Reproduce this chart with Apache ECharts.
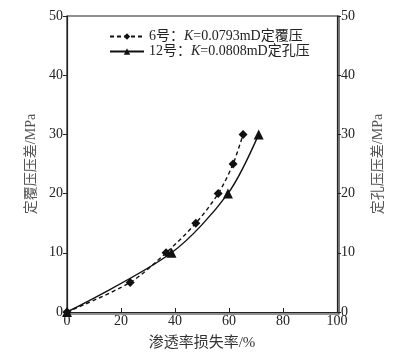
<!DOCTYPE html>
<html>
<head>
<meta charset="utf-8">
<script src="https://cdn.jsdelivr.net/npm/echarts@6/dist/echarts.min.js"></script>
<style>
html, body { margin: 0; padding: 0; background: #fff; }
#chart { width: 393px; height: 356px; }
</style>
</head>
<body>
<div id="chart"></div>
<script>
// 6号 定覆压
var lossA = [0, 23.4, 36.7, 47.7, 56.0, 61.5, 65.2];
var pressA = [0, 5, 10, 15, 20, 25, 30];
// 12号 定孔压
var lossB = [0, 38.7, 59.6, 71.0];
var pressB = [0, 10, 20, 30];

var nameA = '6号：{i|K}=0.0793mD定覆压';
var nameB = '12号：{i|K}=0.0808mD定孔压';

var serif = '"Liberation Serif", "Noto Sans CJK SC", serif';

var dataA = [];
for (var i = 0; i < lossA.length; i++) {
	dataA.push([lossA[i], pressA[i]]);
}
var dataB = [];
for (var j = 0; j < lossB.length; j++) {
	dataB.push([lossB[j], pressB[j]]);
}

var chart = echarts.init(document.getElementById('chart'));

var yAxisBase = {
	type : 'value',
	min : 0,
	max : 50,
	interval : 10,
	nameLocation : 'middle',
	nameTextStyle : {
		fontFamily : serif,
		fontSize : 14,
		color : '#555'
	},
	axisLine : { show : true, lineStyle : { color : '#222', width : 1.2 } },
	axisTick : { show : true, inside : false, length : 4, lineStyle : { color : '#222' } },
	axisLabel : { fontFamily : serif, fontSize : 14, color : '#222', margin : 4 },
	splitLine : { show : false }
};

var option = {
	animation : false,
	grid : {
		left : 67,
		right : 54,
		top : 16,
		bottom : 42
	},
	legend : {
		data : [ nameA, nameB ],
		orient : 'vertical',
		left : 104,
		top : 24,
		itemGap : 0,
		itemWidth : 34,
		itemHeight : 8,
		formatter : function(n) { return n; },
		textStyle : {
			fontFamily : serif,
			fontSize : 14,
			lineHeight : 15,
			color : '#222',
			rich : {
				i : { fontFamily : serif, fontSize : 14, lineHeight : 15, fontStyle : 'italic', color : '#222' }
			}
		}
	},
	xAxis : {
		type : 'value',
		min : 0,
		max : 100,
		interval : 20,
		name : '渗透率损失率/%',
		nameLocation : 'middle',
		nameGap : 24,
		nameTextStyle : {
			fontFamily : serif,
			fontSize : 15,
			color : '#333'
		},
		axisLine : { show : true, lineStyle : { color : '#222', width : 1.2 } },
		axisTick : { show : true, inside : true, length : 4, lineStyle : { color : '#222' } },
		axisLabel : { fontFamily : serif, fontSize : 14, color : '#222', margin : 2 },
		splitLine : { show : false }
	},
	yAxis : [
		Object.assign({}, yAxisBase, { name : '定覆压压差/MPa', position : 'left', nameGap : 28 }),
		Object.assign({}, yAxisBase, { name : '定孔压压差/MPa', position : 'right', nameGap : 34 })
	],
	series : [ {
		name : nameA,
		type : 'line',
		yAxisIndex : 0,
		smooth : 0.3,
		symbol : 'diamond',
		symbolSize : 9,
		itemStyle : { color : '#111' },
		lineStyle : { color : '#111', width : 1.4, type : [4, 3] },
		data : dataA
	}, {
		name : nameB,
		type : 'line',
		yAxisIndex : 1,
		smooth : 0.3,
		symbol : 'triangle',
		symbolSize : 10,
		itemStyle : { color : '#111' },
		lineStyle : { color : '#111', width : 1.4 },
		data : dataB
	} ],
	graphic : [ {
		type : 'rect',
		shape : { x : 67, y : 16, width : 272, height : 298 },
		style : { fill : 'none', stroke : '#222', lineWidth : 1.2 },
		silent : true
	} ]
};
chart.setOption(option);
</script>
</body>
</html>
